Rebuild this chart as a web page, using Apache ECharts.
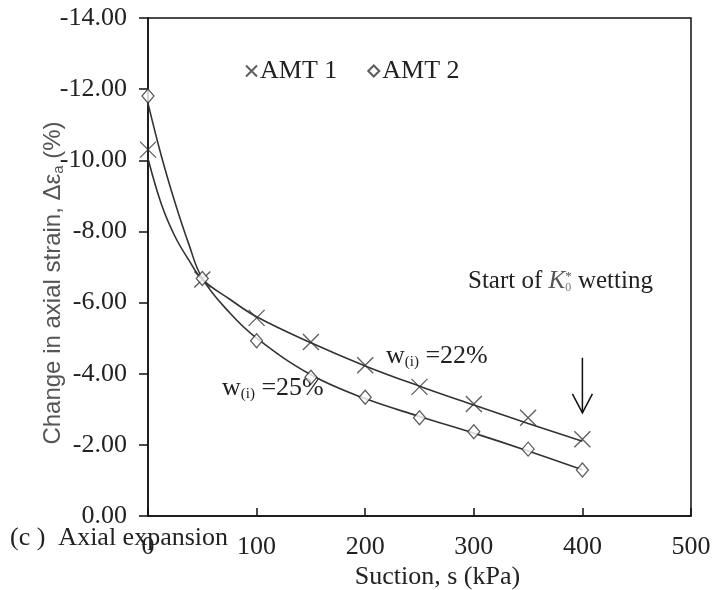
<!DOCTYPE html>
<html>
<head>
<meta charset="utf-8">
<script src="https://cdn.jsdelivr.net/npm/echarts@6/dist/echarts.min.js"></script>
<style>html,body{margin:0;padding:0;background:#fff}#c{width:716px;height:590px}</style>
</head>
<body>
<div id="c"></div>
<script>
// Measured points
var suction = [0, 50, 100, 150, 200, 250, 300, 350, 400];
var amt1 = [-10.3, -6.65, -5.57, -4.89, -4.24, -3.63, -3.15, -2.76, -2.16];
var amt2 = [-11.81, -6.68, -4.93, -3.9, -3.34, -2.76, -2.37, -1.88, -1.29];
// Fitted trend curves
var curveS = [0, 12.5, 25, 37.5, 50, 75, 100, 150, 200, 250, 300, 350, 400];
var curve1 = [-10.05, -8.75, -7.85, -7.2, -6.65, -6.1, -5.6, -4.87, -4.22, -3.65, -3.12, -2.6, -2.1];
var curve2 = [-11.6, -10.1, -8.8, -7.65, -6.68, -5.72, -5.0, -3.97, -3.3, -2.8, -2.33, -1.83, -1.3];
var xTicks = [0, 100, 200, 300, 400, 500];
var yTicks = [0, -2, -4, -6, -8, -10, -12, -14];
var arrowS = 400, arrowFrom = -4.45, arrowTo = -2.9;

function pairs(xs, ys) { return xs.map(function (x, i) { return [x, ys[i]]; }); }

var serif = '"Liberation Serif", "Times New Roman", serif';
var sans = '"Liberation Sans", Arial, sans-serif';
var ink = '#222';
var crossPath = 'path://M0,0L10,10M10,0L0,10';

var chart = echarts.init(document.getElementById('c'));
var option = {
  animation: false,
  backgroundColor: '#fff',
  grid: { left: 148, right: 25, top: 18, bottom: 74, outerBoundsMode: 'none', containLabel: false,
    show: true, borderColor: '#111', borderWidth: 1.5, backgroundColor: 'transparent' },
  legend: {
    data: ['AMT 1', 'AMT 2'],
    left: 240, top: 53,
    itemWidth: 11, itemHeight: 11, itemGap: 30,
    textStyle: { fontFamily: serif, fontSize: 26, color: ink, padding: [0, 0, 0, -2] }
  },
  xAxis: {
    type: 'value', min: 0, max: 500, interval: 100,
    name: 'Suction, s (kPa)', nameLocation: 'middle', nameGap: 48, nameMoveOverlap: false,
    nameTextStyle: { fontFamily: serif, fontSize: 26, color: ink, padding: [0, 0, 0, 36] },
    axisLine: { show: true, lineStyle: { color: '#111', width: 1.5 } },
    axisTick: { show: true, inside: true, length: 8, lineStyle: { color: '#111', width: 1.5 } },
    axisLabel: { fontFamily: serif, fontSize: 26, color: ink, margin: 18 },
    splitLine: { show: false }
  },
  yAxis: {
    type: 'value', min: -14, max: 0, interval: 2, inverse: true,
    name: 'Change in axial strain, \u0394\u03b5{s|a} (%)', nameLocation: 'middle', nameGap: 82, nameMoveOverlap: false,
    nameTextStyle: { fontFamily: sans, fontSize: 24, color: '#555', padding: [0, 0, 0, -32],
      rich: { s: { fontFamily: sans, fontSize: 15, color: '#555', verticalAlign: 'bottom', padding: [10, 0, 0, 0] } } },
    axisLine: { show: true, lineStyle: { color: '#111', width: 1.5 } },
    axisTick: { show: true, inside: false, length: 9, lineStyle: { color: '#111', width: 1.5 } },
    axisLabel: { fontFamily: serif, fontSize: 26, color: ink, margin: 21,
      formatter: function (v) { return (v === 0 ? 0 : v).toFixed(2); } },
    splitLine: { show: false }
  },
  series: [
    { name: 'AMT 1 fit', type: 'line', data: pairs(curveS, curve1), smooth: 0.4, showSymbol: false, silent: true,
      lineStyle: { color: '#333', width: 1.6 }, z: 2 },
    { name: 'AMT 2 fit', type: 'line', data: pairs(curveS, curve2), smooth: 0.4, showSymbol: false, silent: true,
      lineStyle: { color: '#333', width: 1.6 }, z: 2 },
    { name: 'AMT 1', type: 'scatter', data: pairs(suction, amt1), symbol: crossPath, symbolSize: 16,
      itemStyle: { color: 'transparent', borderColor: '#333', borderWidth: 1.3 }, z: 3 },
    { name: 'AMT 2', type: 'scatter', data: pairs(suction, amt2), symbol: 'diamond', symbolSize: [12, 14],
      itemStyle: { color: '#fff', borderColor: '#333', borderWidth: 1.3 }, z: 4 }
  ],
  graphic: [
    { type: 'text', left: 222, top: 375, style: {
      text: '{a|w}{b|(i)}{a| =25%}', fill: ink,
      rich: { a: { fontFamily: serif, fontSize: 26, fill: ink }, b: { fontFamily: serif, fontSize: 15, fill: ink, padding: [13, 0, 0, 0] } } } },
    { type: 'text', left: 386, top: 343, style: {
      text: '{a|w}{b|(i)}{a| =22%}', fill: ink,
      rich: { a: { fontFamily: serif, fontSize: 26, fill: ink }, b: { fontFamily: serif, fontSize: 15, fill: ink, padding: [13, 0, 0, 0] } } } },
    { type: 'text', left: 468, top: 269, style: {
      text: '{a|Start of }{k|K}{b|0}{c|*}{a| wetting}', fill: ink,
      rich: { a: { fontFamily: serif, fontSize: 25, fill: ink }, k: { fontFamily: serif, fontSize: 25, fontStyle: 'italic', fill: '#555' },
        b: { fontFamily: serif, fontSize: 12, fill: '#777', padding: [13, 0, 0, 0] }, c: { fontFamily: serif, fontSize: 13, fill: '#555', padding: [0, 0, 9, -6] } } } },
    { type: 'text', left: 10, top: 525, style: { text: '(c )  Axial expansion', fontFamily: serif, fontSize: 26, fill: ink } }
  ]
};
chart.setOption(option);

// Arrow marking the start of wetting, placed through the chart's scales
var p0 = chart.convertToPixel({ gridIndex: 0 }, [arrowS, arrowFrom]);
var p1 = chart.convertToPixel({ gridIndex: 0 }, [arrowS, arrowTo]);
chart.setOption({ graphic: option.graphic.concat([
  { type: 'line', shape: { x1: p0[0], y1: p0[1], x2: p1[0], y2: p1[1] }, style: { stroke: '#111', lineWidth: 1.5 }, z: 10 },
  { type: 'polyline', shape: { points: [[p1[0] - 10, p1[1] - 19], [p1[0], p1[1]], [p1[0] + 10, p1[1] - 19]] }, style: { stroke: '#111', lineWidth: 1.5, fill: null }, z: 10 }
]) });
</script>
</body>
</html>
